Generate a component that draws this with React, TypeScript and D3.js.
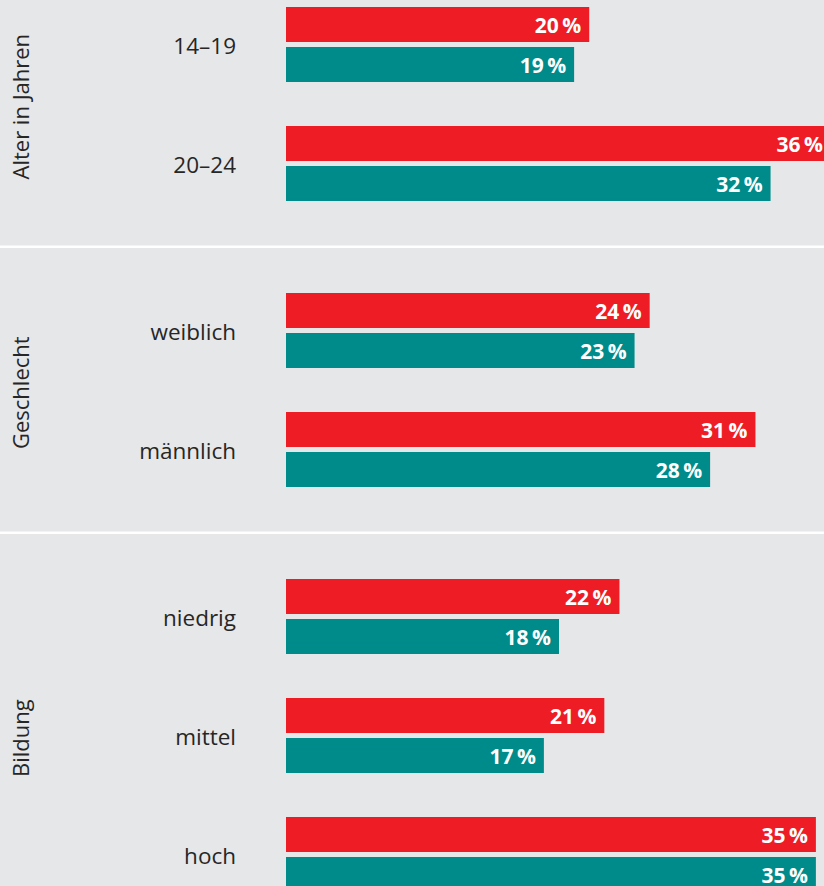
import React, { useEffect } from "react";
import * as d3 from "d3";

const sectionTitles = ["Alter in Jahren", "Geschlecht", "Bildung"];
const ageCategories = ["14–19", "20–24"];
const genderCategories = ["weiblich", "männlich"];
const educationCategories = ["niedrig", "mittel", "hoch"];
const redAge = [20, 36];
const redGender = [24, 31];
const redEducation = [22, 21, 35];
const tealAge = [19, 32];
const tealGender = [23, 28];
const tealEducation = [18, 17, 35];

const W = 824;
const H = 886;
const RED = "#ee1c25";
const TEAL = "#008b8b";
const BG = "#e6e7e9";
const TEXT = "#262626";
const FONT = "'Open Sans', 'Noto Sans', sans-serif";

const sectionCats = [ageCategories, genderCategories, educationCategories];
const sectionRed = [redAge, redGender, redEducation];
const sectionTeal = [tealAge, tealGender, tealEducation];

export default function App() {
  useEffect(() => {
    document.body.style.margin = "0";
  }, []);

  const x = d3.scaleLinear().domain([0, 36]).range([287, 831]);
  const barLeft = 286;
  const groupStep = 119;
  const groupGap = 44;
  const padTop = 46.3;
  const padBottom = 45.7;
  const firstTop = -39.3;

  const sections: any[] = [];
  let top = firstTop;
  sectionCats.forEach((cats, si) => {
    const n = cats.length;
    const inner = n * groupStep - groupGap;
    const y = d3
      .scaleBand<string>()
      .domain(cats)
      .range([top + padTop, top + padTop + inner])
      .paddingInner(groupGap / groupStep)
      .paddingOuter(0);
    const sub = d3
      .scaleBand<string>()
      .domain(["red", "teal"])
      .range([0, y.bandwidth()])
      .paddingInner(5 / 40)
      .paddingOuter(0);
    const bottom = top + padTop + inner + padBottom;
    sections.push({ si, cats, y, sub, top, bottom });
    top = bottom;
  });

  const fmt = (v: number) => `${v}\u2009%`;

  return (
    <svg width={W} height={H} style={{ display: "block", background: BG }}>
      <rect x={0} y={0} width={W} height={H} fill={BG} />
      {sections.map((s) => (
        <g key={s.si}>
          {s.si > 0 && (
            <line x1={0} x2={W} y1={s.top} y2={s.top} stroke="#ffffff" strokeWidth={2.5} />
          )}
          <text
            transform={`translate(28.5, ${(s.top + s.bottom) / 2 + 3}) rotate(-90)`}
            textAnchor="middle"
            fontFamily={FONT}
            fontSize={22}
            fill={TEXT}
          >
            {sectionTitles[s.si]}
          </text>
          {s.cats.map((c: string, ci: number) => {
            const gy = s.y(c);
            const rv = sectionRed[s.si][ci];
            const tv = sectionTeal[s.si][ci];
            const ry = gy + s.sub("red");
            const ty = gy + s.sub("teal");
            const bh = s.sub.bandwidth();
            return (
              <g key={c}>
                <text
                  x={236}
                  y={gy + s.y.bandwidth() / 2 + 1}
                  textAnchor="end"
                  dominantBaseline="central"
                  fontFamily={FONT}
                  fontSize={22.5}
                  fill={TEXT}
                >
                  {c}
                </text>
                <rect x={barLeft} y={ry} width={x(rv) - barLeft} height={bh} fill={RED} />
                <rect x={barLeft} y={ty} width={x(tv) - barLeft} height={bh} fill={TEAL} />
                <text
                  x={x(rv) - 8}
                  y={ry + bh / 2}
                  textAnchor="end"
                  dominantBaseline="central"
                  fontFamily={FONT}
                  fontWeight={700}
                  fontSize={21}
                  fill="#ffffff"
                >
                  {fmt(rv)}
                </text>
                <text
                  x={x(tv) - 8}
                  y={ty + bh / 2}
                  textAnchor="end"
                  dominantBaseline="central"
                  fontFamily={FONT}
                  fontWeight={700}
                  fontSize={21}
                  fill="#ffffff"
                >
                  {fmt(tv)}
                </text>
              </g>
            );
          })}
        </g>
      ))}
    </svg>
  );
}
